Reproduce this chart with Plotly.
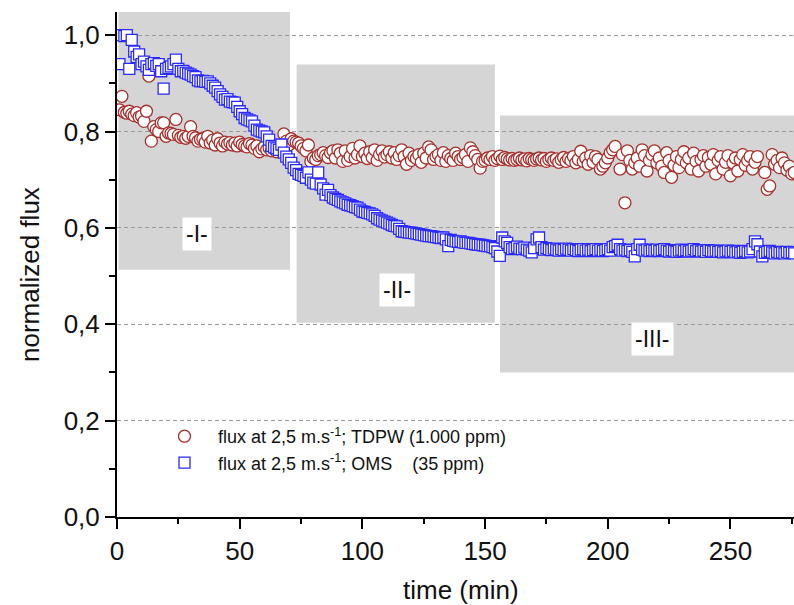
import plotly.graph_objects as go

# sampling times (min), one reading per minute
time_min = list(range(1, 277))

# flux at 2,5 m.s-1; OMS (35 ppm) - normalized
oms_flux = [
    0.940, 1.000, 0.998, 1.000, 0.930, 0.990, 0.966, 0.955, 0.960, 0.940,
    0.945, 0.935, 0.928, 0.940, 0.942, 0.936, 0.940, 0.925, 0.889, 0.930,
    0.932, 0.935, 0.940, 0.949, 0.930, 0.925, 0.926, 0.922, 0.920, 0.918,
    0.915, 0.913, 0.906, 0.904, 0.905, 0.903, 0.904, 0.900, 0.895, 0.891,
    0.884, 0.877, 0.872, 0.866, 0.867, 0.862, 0.861, 0.860, 0.851, 0.842,
    0.836, 0.828, 0.825, 0.823, 0.821, 0.812, 0.804, 0.802, 0.800, 0.798,
    0.790, 0.783, 0.770, 0.767, 0.765, 0.762, 0.773, 0.756, 0.748, 0.742,
    0.735, 0.725, 0.720, 0.712, 0.710, 0.708, 0.704, 0.715, 0.700, 0.694,
    0.692, 0.715, 0.690, 0.682, 0.669, 0.679, 0.668, 0.663, 0.660, 0.658,
    0.655, 0.653, 0.651, 0.648, 0.647, 0.645, 0.643, 0.642, 0.638, 0.634,
    0.633, 0.631, 0.630, 0.628, 0.625, 0.620, 0.617, 0.615, 0.613, 0.611,
    0.609, 0.606, 0.604, 0.603, 0.598, 0.593, 0.592, 0.591, 0.590, 0.590,
    0.589, 0.588, 0.587, 0.586, 0.585, 0.584, 0.583, 0.583, 0.582, 0.581,
    0.580, 0.579, 0.580, 0.576, 0.562, 0.575, 0.573, 0.572, 0.571, 0.572,
    0.570, 0.569, 0.569, 0.568, 0.567, 0.566, 0.565, 0.565, 0.564, 0.563,
    0.562, 0.562, 0.560, 0.558, 0.551, 0.542, 0.580, 0.572, 0.569, 0.560,
    0.556, 0.558, 0.561, 0.557, 0.556, 0.559, 0.555, 0.553, 0.549, 0.558,
    0.576, 0.580, 0.560, 0.555, 0.558, 0.556, 0.554, 0.557, 0.555, 0.553,
    0.556, 0.554, 0.557, 0.555, 0.553, 0.556, 0.554, 0.552, 0.555, 0.556,
    0.553, 0.555, 0.552, 0.554, 0.556, 0.553, 0.555, 0.552, 0.554, 0.556,
    0.553, 0.560, 0.562, 0.565, 0.556, 0.553, 0.555, 0.552, 0.554, 0.550,
    0.541, 0.556, 0.565, 0.555, 0.553, 0.555, 0.552, 0.554, 0.553, 0.555,
    0.552, 0.554, 0.556, 0.553, 0.551, 0.554, 0.552, 0.550, 0.553, 0.555,
    0.552, 0.554, 0.551, 0.553, 0.556, 0.552, 0.554, 0.551, 0.553, 0.550,
    0.554, 0.552, 0.551, 0.553, 0.550, 0.552, 0.549, 0.551, 0.553, 0.550,
    0.552, 0.549, 0.551, 0.548, 0.550, 0.552, 0.549, 0.551, 0.556, 0.572,
    0.566, 0.551, 0.541, 0.548, 0.550, 0.552, 0.549, 0.547, 0.550, 0.548,
    0.549, 0.547, 0.550, 0.548, 0.549, 0.547,
]

# flux at 2,5 m.s-1; TDPW (1.000 ppm) - normalized (None = no reading)
tdpw_flux = [
    0.845, 0.873, 0.840, 0.838, 0.842, 0.836, 0.833, 0.839, 0.830, 0.832,
    0.821, 0.842, 0.915, 0.780, 0.810, 0.804, 0.800, 0.818, 0.818, 0.790,
    0.797, 0.796, 0.794, 0.825, 0.792, 0.788, 0.790, 0.786, 0.790, 0.810,
    0.790, 0.787, 0.780, 0.784, 0.785, 0.778, 0.790, 0.776, 0.782, 0.772,
    0.785, 0.776, 0.770, 0.778, 0.774, 0.777, 0.772, 0.776, 0.770, 0.778,
    0.773, 0.770, 0.768, 0.775, 0.772, 0.765, 0.770, 0.758, 0.764, 0.768,
    0.762, 0.766, 0.760, 0.764, 0.758, 0.762, 0.768, 0.795, 0.780, 0.772,
    0.785, 0.780, 0.778, 0.776, 0.770, 0.765, 0.760, 0.772, 0.738, 0.745,
    0.742, 0.750, 0.752, 0.756, 0.750, 0.746, 0.756, 0.760, 0.745, 0.762,
    0.755, 0.738, 0.760, 0.740, 0.748, 0.765, 0.745, 0.752, 0.770, 0.748,
    0.755, 0.744, 0.758, 0.746, 0.762, 0.740, 0.752, 0.760, 0.747, 0.752,
    0.758, 0.745, 0.756, 0.742, 0.750, 0.762, 0.748, 0.732, 0.755, 0.740,
    0.748, 0.744, 0.752, 0.736, 0.755, 0.745, 0.768, 0.762, 0.742, 0.748,
    0.752, 0.740, 0.756, 0.738, 0.750, 0.744, 0.740, 0.755, 0.748, 0.742,
    0.746, 0.752, 0.738, 0.766, 0.758, 0.750, 0.742, 0.724, 0.738, 0.740,
    0.745, 0.742, 0.748, 0.740, 0.744, 0.749, 0.742, 0.746, 0.743, 0.741,
    0.744, 0.740, 0.742, 0.745, 0.741, 0.743, 0.739, 0.744, 0.742, 0.740,
    0.743, 0.745, 0.741, 0.744, 0.738, 0.742, 0.745, 0.740, 0.743, 0.736,
    0.742, 0.746, 0.738, 0.744, 0.740, 0.748, 0.735, 0.742, 0.759, 0.738,
    0.745, 0.732, 0.750, 0.736, 0.748, 0.742, 0.722, 0.728, 0.735, 0.745,
    0.756, 0.762, 0.769, None, 0.722, 0.752, 0.652, 0.760, 0.740, 0.722,
    0.735, 0.745, 0.728, 0.762, 0.750, 0.718, 0.740, 0.752, 0.760, 0.735,
    0.745, 0.728, 0.715, 0.756, 0.740, 0.705, 0.730, 0.748, 0.725, 0.742,
    0.758, 0.735, 0.745, 0.722, 0.755, 0.738, 0.718, 0.742, 0.750, 0.728,
    0.746, 0.732, 0.752, 0.712, 0.740, 0.748, 0.722, 0.736, 0.750, 0.708,
    0.735, 0.745, 0.718, 0.742, 0.752, 0.730, 0.740, 0.748, 0.722, 0.736,
    0.748, None, None, 0.715, 0.680, 0.687, 0.752, 0.732, 0.740, 0.725,
    0.745, 0.735, 0.720, 0.728, 0.712, 0.715,
]

# shaded stage regions (data units) and their labels
stage_names = ["-I-", "-II-", "-III-"]
stage_x0 = [0.6, 73.2, 156.1]
stage_x1 = [70.5, 154.0, 290.0]
stage_y0 = [0.513, 0.403, 0.300]
stage_y1 = [1.060, 0.939, 0.833]
label_x = [32.6, 114.1, 218.4]
label_y = [0.588, 0.471, 0.370]

FONT = "Arial, Liberation Sans, sans-serif"

fig = go.Figure()

fig.add_trace(go.Scatter(
    x=time_min, y=tdpw_flux, mode="markers",
    name="flux at 2,5 m.s<sup>-1</sup>; TDPW (1.000 ppm)",
    marker=dict(symbol="circle", size=12, color="white",
                line=dict(color="#a8302c", width=1.3)),
))
fig.add_trace(go.Scatter(
    x=time_min, y=oms_flux, mode="markers",
    name="flux at 2,5 m.s<sup>-1</sup>; OMS\u00a0\u00a0\u00a0\u00a0(35 ppm)",
    marker=dict(symbol="square", size=11, color="white",
                line=dict(color="#2a2aff", width=1.3)),
))

for i in range(len(stage_names)):
    fig.add_shape(type="rect", xref="x", yref="y",
                  x0=stage_x0[i], x1=stage_x1[i], y0=stage_y0[i], y1=stage_y1[i],
                  fillcolor="#d5d5d5", line=dict(width=0), layer="below")
    fig.add_annotation(x=label_x[i], y=label_y[i], xref="x", yref="y",
                       text=stage_names[i], showarrow=False,
                       xanchor="center", yanchor="middle",
                       bgcolor="white", borderpad=3,
                       font=dict(family=FONT, size=23, color="#111"))

# axis titles placed at pixel positions (plot area: x 117..794, y 12..517)
fig.add_annotation(x=(30 - 117) / 677, y=(517 - 275) / 505, xref="paper", yref="paper",
                   text="normalized flux", showarrow=False, textangle=-90,
                   xanchor="center", yanchor="middle",
                   font=dict(family=FONT, size=26, color="#111"))
fig.add_annotation(x=(461 - 117) / 677, y=(517 - 590) / 505, xref="paper", yref="paper",
                   text="time (min)", showarrow=False,
                   xanchor="center", yanchor="middle",
                   font=dict(family=FONT, size=26, color="#111"))

fig.update_layout(
    width=794, height=605,
    margin=dict(l=117, r=0, t=12, b=88),
    paper_bgcolor="white", plot_bgcolor="white",
    separators=",.",
    showlegend=True,
    legend=dict(x=(151 - 117) / 677, y=0.196, xanchor="left", yanchor="top",
                bgcolor="rgba(0,0,0,0)",
                font=dict(family=FONT, size=18, color="#111"),
                itemwidth=57, tracegroupgap=0),
    font=dict(family=FONT, color="#111"),
)

fig.update_xaxes(
    range=[0, 275.9], showline=True, linewidth=2, linecolor="black",
    ticks="outside", ticklen=10, tickwidth=2, tickcolor="black",
    dtick=50, tick0=0, showgrid=False, zeroline=False, automargin=False,
    minor=dict(dtick=25, ticklen=5, tickwidth=2, tickcolor="black", showgrid=False),
    tickfont=dict(family=FONT, size=26, color="#111"),
)
fig.update_yaxes(
    range=[0, 1.048], showline=True, linewidth=2, linecolor="black",
    ticks="outside", ticklen=10, tickwidth=2, tickcolor="black",
    dtick=0.2, tick0=0, tickformat=".1f", showgrid=True, automargin=False,
    gridcolor="#9a9a9a", gridwidth=1, griddash="4px,3px", zeroline=False,
    minor=dict(dtick=0.1, ticklen=6, tickwidth=2, tickcolor="black", showgrid=False),
    tickfont=dict(family=FONT, size=26, color="#111"),
)

fig.write_html("out.html", config={"displayModeBar": False},
               post_script="document.body.style.margin='0';document.body.style.overflow='hidden';")
